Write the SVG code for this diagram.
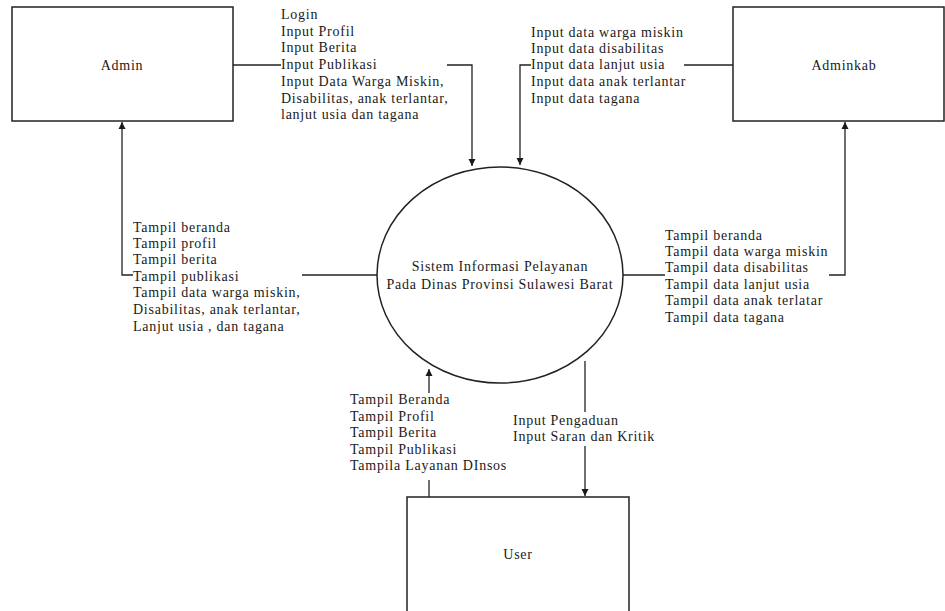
<svg xmlns="http://www.w3.org/2000/svg" width="945" height="611" viewBox="0 0 945 611">
<defs>
<marker id="ah" markerWidth="8" markerHeight="8" refX="7" refY="4" orient="auto" markerUnits="userSpaceOnUse">
<path d="M0,0.5 L7,4 L0,7.5 Z" fill="#1a1a1a"/>
</marker>
<style>
.box{fill:#fff;stroke:#222;stroke-width:1.5}
.ln{fill:none;stroke:#222;stroke-width:1.3}
.t{font-family:"Liberation Serif","Times New Roman",serif;font-size:14px;letter-spacing:0.75px;fill:#1a1a1a}
.c{text-anchor:middle}
</style>
</defs>
<rect width="945" height="611" fill="#fff"/>
<g id="connectors">
<path class="ln" d="M233,65 H281"/>
<path class="ln" d="M447,65 H472 V166" marker-end="url(#ah)"/>
<path class="ln" d="M733,65 H684"/>
<path class="ln" d="M531,65 H520 V165" marker-end="url(#ah)"/>
<path class="ln" d="M622,275 H665"/>
<path class="ln" d="M829,275 H845 V122" marker-end="url(#ah)"/>
<path class="ln" d="M377,275 H302"/>
<path class="ln" d="M133,275 H122 V122" marker-end="url(#ah)"/>
<path class="ln" d="M429,497 V480"/>
<path class="ln" d="M429,393 V369" marker-end="url(#ah)"/>
<path class="ln" d="M585,361 V412"/>
<path class="ln" d="M585,446 V496" marker-end="url(#ah)"/>
<g class="t">
<text x="281" y="19">Login</text>
<text x="281" y="36">Input Profil</text>
<text x="281" y="52">Input Berita</text>
<text x="281" y="69">Input Publikasi</text>
<text x="281" y="86">Input Data Warga Miskin,</text>
<text x="281" y="103">Disabilitas, anak terlantar,</text>
<text x="281" y="119">lanjut usia dan tagana</text>
<text x="531" y="37">Input data warga miskin</text>
<text x="531" y="53">Input data disabilitas</text>
<text x="531" y="69">Input data lanjut usia</text>
<text x="531" y="86">Input data anak terlantar</text>
<text x="531" y="103">Input data tagana</text>
<text x="665" y="240">Tampil beranda</text>
<text x="665" y="256">Tampil data warga miskin</text>
<text x="665" y="272">Tampil data disabilitas</text>
<text x="665" y="289">Tampil data lanjut usia</text>
<text x="665" y="305">Tampil data anak terlatar</text>
<text x="665" y="322">Tampil data tagana</text>
<text x="133" y="232">Tampil beranda</text>
<text x="133" y="248">Tampil profil</text>
<text x="133" y="264">Tampil berita</text>
<text x="133" y="281">Tampil publikasi</text>
<text x="133" y="297">Tampil data warga miskin,</text>
<text x="133" y="314">Disabilitas, anak terlantar,</text>
<text x="133" y="331">Lanjut usia , dan tagana</text>
<text x="350" y="404">Tampil Beranda</text>
<text x="350" y="421">Tampil Profil</text>
<text x="350" y="437">Tampil Berita</text>
<text x="350" y="454">Tampil Publikasi</text>
<text x="350" y="470">Tampila Layanan DInsos</text>
<text x="513" y="425">Input Pengaduan</text>
<text x="513" y="441">Input Saran dan Kritik</text>
</g>
</g>
<g id="admin">
<rect class="box" x="12" y="7" width="221" height="114"/>
<text class="t c" x="122" y="70">Admin</text>
</g>
<g id="adminkab">
<rect class="box" x="733" y="7" width="211" height="114"/>
<text class="t c" x="844" y="70">Adminkab</text>
</g>
<g id="sistem">
<ellipse class="box" cx="500" cy="275" rx="123" ry="108"/>
<text class="t c" x="500" y="271">Sistem Informasi Pelayanan</text>
<text class="t c" x="500" y="289">Pada Dinas Provinsi Sulawesi Barat</text>
</g>
<g id="user">
<rect class="box" x="407" y="497" width="222" height="120"/>
<text class="t c" x="518" y="559">User</text>
</g>
</svg>
